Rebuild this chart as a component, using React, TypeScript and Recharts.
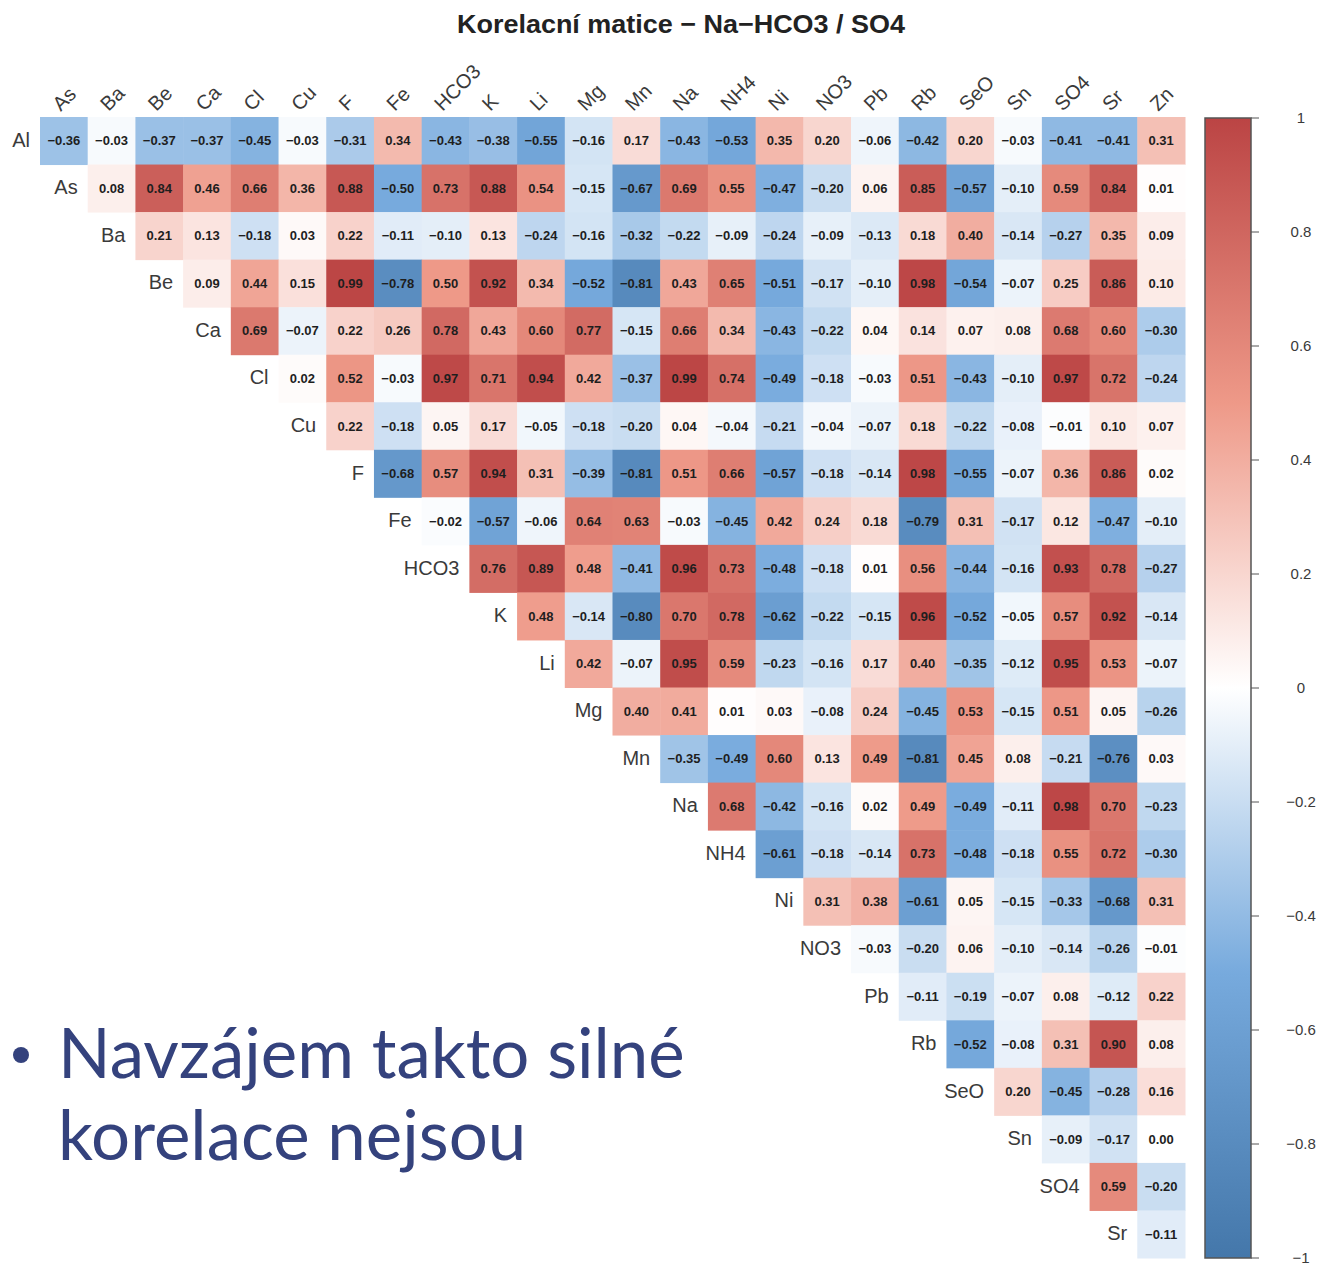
import React from 'react';
import { ScatterChart, Scatter, XAxis, YAxis } from 'recharts';

const colNames = ['As','Ba','Be','Ca','Cl','Cu','F','Fe','HCO3','K','Li','Mg','Mn','Na','NH4','Ni','NO3','Pb','Rb','SeO','Sn','SO4','Sr','Zn'];
const rowNames = ['Al','As','Ba','Be','Ca','Cl','Cu','F','Fe','HCO3','K','Li','Mg','Mn','Na','NH4','Ni','NO3','Pb','Rb','SeO','Sn','SO4','Sr'];

const rowAl = [-0.36,-0.03,-0.37,-0.37,-0.45,-0.03,-0.31,0.34,-0.43,-0.38,-0.55,-0.16,0.17,-0.43,-0.53,0.35,0.20,-0.06,-0.42,0.20,-0.03,-0.41,-0.41,0.31];
const rowAs = [0.08,0.84,0.46,0.66,0.36,0.88,-0.50,0.73,0.88,0.54,-0.15,-0.67,0.69,0.55,-0.47,-0.20,0.06,0.85,-0.57,-0.10,0.59,0.84,0.01];
const rowBa = [0.21,0.13,-0.18,0.03,0.22,-0.11,-0.10,0.13,-0.24,-0.16,-0.32,-0.22,-0.09,-0.24,-0.09,-0.13,0.18,0.40,-0.14,-0.27,0.35,0.09];
const rowBe = [0.09,0.44,0.15,0.99,-0.78,0.50,0.92,0.34,-0.52,-0.81,0.43,0.65,-0.51,-0.17,-0.10,0.98,-0.54,-0.07,0.25,0.86,0.10];
const rowCa = [0.69,-0.07,0.22,0.26,0.78,0.43,0.60,0.77,-0.15,0.66,0.34,-0.43,-0.22,0.04,0.14,0.07,0.08,0.68,0.60,-0.30];
const rowCl = [0.02,0.52,-0.03,0.97,0.71,0.94,0.42,-0.37,0.99,0.74,-0.49,-0.18,-0.03,0.51,-0.43,-0.10,0.97,0.72,-0.24];
const rowCu = [0.22,-0.18,0.05,0.17,-0.05,-0.18,-0.20,0.04,-0.04,-0.21,-0.04,-0.07,0.18,-0.22,-0.08,-0.01,0.10,0.07];
const rowF = [-0.68,0.57,0.94,0.31,-0.39,-0.81,0.51,0.66,-0.57,-0.18,-0.14,0.98,-0.55,-0.07,0.36,0.86,0.02];
const rowFe = [-0.02,-0.57,-0.06,0.64,0.63,-0.03,-0.45,0.42,0.24,0.18,-0.79,0.31,-0.17,0.12,-0.47,-0.10];
const rowHCO3 = [0.76,0.89,0.48,-0.41,0.96,0.73,-0.48,-0.18,0.01,0.56,-0.44,-0.16,0.93,0.78,-0.27];
const rowK = [0.48,-0.14,-0.80,0.70,0.78,-0.62,-0.22,-0.15,0.96,-0.52,-0.05,0.57,0.92,-0.14];
const rowLi = [0.42,-0.07,0.95,0.59,-0.23,-0.16,0.17,0.40,-0.35,-0.12,0.95,0.53,-0.07];
const rowMg = [0.40,0.41,0.01,0.03,-0.08,0.24,-0.45,0.53,-0.15,0.51,0.05,-0.26];
const rowMn = [-0.35,-0.49,0.60,0.13,0.49,-0.81,0.45,0.08,-0.21,-0.76,0.03];
const rowNa = [0.68,-0.42,-0.16,0.02,0.49,-0.49,-0.11,0.98,0.70,-0.23];
const rowNH4 = [-0.61,-0.18,-0.14,0.73,-0.48,-0.18,0.55,0.72,-0.30];
const rowNi = [0.31,0.38,-0.61,0.05,-0.15,-0.33,-0.68,0.31];
const rowNO3 = [-0.03,-0.20,0.06,-0.10,-0.14,-0.26,-0.01];
const rowPb = [-0.11,-0.19,-0.07,0.08,-0.12,0.22];
const rowRb = [-0.52,-0.08,0.31,0.90,0.08];
const rowSeO = [0.20,-0.45,-0.28,0.16];
const rowSn = [-0.09,-0.17,0.00];
const rowSO4 = [0.59,-0.20];
const rowSr = [-0.11];

const rows = [rowAl,rowAs,rowBa,rowBe,rowCa,rowCl,rowCu,rowF,rowFe,rowHCO3,rowK,rowLi,rowMg,rowMn,rowNa,rowNH4,rowNi,rowNO3,rowPb,rowRb,rowSeO,rowSn,rowSO4,rowSr];

const colorbarTicks = [1, 0.8, 0.6, 0.4, 0.2, 0, -0.2, -0.4, -0.6, -0.8, -1];
const paletteStops = ['#4477AA', '#77AADD', '#FFFFFF', '#EE9988', '#BB4444'];

const title = 'Korelacní matice − Na−HCO3 / SO4';
const bulletLines = ['Navzájem takto silné', 'korelace nejsou'];

const W = 1327;
const H = 1270;
const M = { left: 40, right: 142, top: 57, bottom: 12 };
const AXIS_H = 60;
const N = 24;
const PLOT_W = W - M.left - M.right;
const PLOT_H = H - M.top - AXIS_H - M.bottom;
const CW = PLOT_W / N;
const CH = PLOT_H / N;
const FONT = '"Liberation Sans", Arial, Helvetica, sans-serif';

function hexToRgb(h: string) {
  return [parseInt(h.slice(1, 3), 16), parseInt(h.slice(3, 5), 16), parseInt(h.slice(5, 7), 16)];
}
function corrColor(v: number) {
  const t = (Math.max(-1, Math.min(1, v)) + 1) / 2 * (paletteStops.length - 1);
  const i = Math.min(paletteStops.length - 2, Math.floor(t));
  const f = t - i;
  const a = hexToRgb(paletteStops[i]);
  const b = hexToRgb(paletteStops[i + 1]);
  const c = a.map((x, k) => Math.round(x + (b[k] - x) * f));
  return `rgb(${c[0]},${c[1]},${c[2]})`;
}
function fmt(v: number) {
  const s = Math.abs(v).toFixed(2);
  return v < 0 ? '−' + s : s;
}

const cells: { x: number; y: number; v: number }[] = [];
rows.forEach((vals, r) => {
  vals.forEach((v, k) => {
    cells.push({ x: r + k + 0.5, y: r + 0.5, v });
  });
});
const rowLabelData = rowNames.map((name, r) => ({ x: r, y: r + 0.5, name }));

const CellShape = (props: any) => {
  const { cx, cy, payload } = props;
  if (cx == null || cy == null) return null;
  return (
    <g>
      <rect x={cx - CW / 2} y={cy - CH / 2} width={CW + 0.5} height={CH + 0.5} fill={corrColor(payload.v)} />
      <text x={cx} y={cy + 4.5} textAnchor="middle" fontSize={13} fontWeight="bold" fill="#1e1e1e" fontFamily={FONT}>
        {fmt(payload.v)}
      </text>
    </g>
  );
};

const RowLabel = (props: any) => {
  const { cx, cy, payload } = props;
  if (cx == null || cy == null) return null;
  return (
    <text x={cx - 10} y={cy + 6} textAnchor="end" fontSize={20} fill="#3a3a3a" fontFamily={FONT}>
      {payload.name}
    </text>
  );
};

const ColTick = (props: any) => {
  const { x, y, payload } = props;
  const idx = Math.round(payload.value - 0.5);
  return (
    <text x={x - 3} y={y} transform={`rotate(-45 ${x - 3} ${y})`} textAnchor="start" fontSize={20} fill="#3a3a3a" fontFamily={FONT}>
      {colNames[idx]}
    </text>
  );
};

const colTicks = colNames.map((_, i) => i + 0.5);

const CB = { x: 1205, y: 118, w: 46, h: 1140 };

export default function App() {
  return (
    <div style={{ position: 'absolute', left: 0, top: 0, width: W, height: H, background: '#fff' }}>
      <ScatterChart width={W} height={H} margin={M}>
        <XAxis
          type="number"
          dataKey="x"
          domain={[0, N]}
          orientation="top"
          height={AXIS_H}
          ticks={colTicks}
          tick={<ColTick />}
          tickLine={false}
          axisLine={false}
          tickSize={0}
          tickMargin={5}
          interval={0}
        />
        <YAxis type="number" dataKey="y" domain={[0, N]} reversed hide />
        <Scatter data={cells} shape={<CellShape />} isAnimationActive={false} />
        <Scatter data={rowLabelData} shape={<RowLabel />} isAnimationActive={false} />
      </ScatterChart>
      <svg width={W} height={H} style={{ position: 'absolute', left: 0, top: 0, pointerEvents: 'none' }}>
        <defs>
          <linearGradient id="cbar" x1="0" y1="1" x2="0" y2="0">
            {paletteStops.map((c, i) => (
              <stop key={i} offset={`${(i / (paletteStops.length - 1)) * 100}%`} stopColor={c} />
            ))}
          </linearGradient>
        </defs>
        <text x={681} y={33} textAnchor="middle" fontSize={26} fontWeight="bold" fill="#222" fontFamily={FONT} textLength={448} lengthAdjust="spacingAndGlyphs">
          {title}
        </text>
        <rect x={CB.x} y={CB.y} width={CB.w} height={CB.h} fill="url(#cbar)" stroke="#555" strokeWidth={1.5} />
        {colorbarTicks.map((t) => {
          const yy = CB.y + ((1 - t) / 2) * CB.h;
          return (
            <g key={t}>
              <line x1={CB.x + CB.w} x2={CB.x + CB.w + 8} y1={yy} y2={yy} stroke="#555" strokeWidth={1} />
              <text x={1301} y={yy + 5} textAnchor="middle" fontSize={15} fill="#3a3a3a" fontFamily={FONT}>
                {t < 0 ? '−' + Math.abs(t) : String(t)}
              </text>
            </g>
          );
        })}
        <circle cx={21} cy={1055} r={8} fill="#34427D" />
        {bulletLines.map((line, i) => (
          <text key={i} x={58} y={1078 + i * 82} fontSize={69} fill="#34427D" fontFamily="Lato, 'Open Sans', sans-serif">
            {line}
          </text>
        ))}
      </svg>
    </div>
  );
}
